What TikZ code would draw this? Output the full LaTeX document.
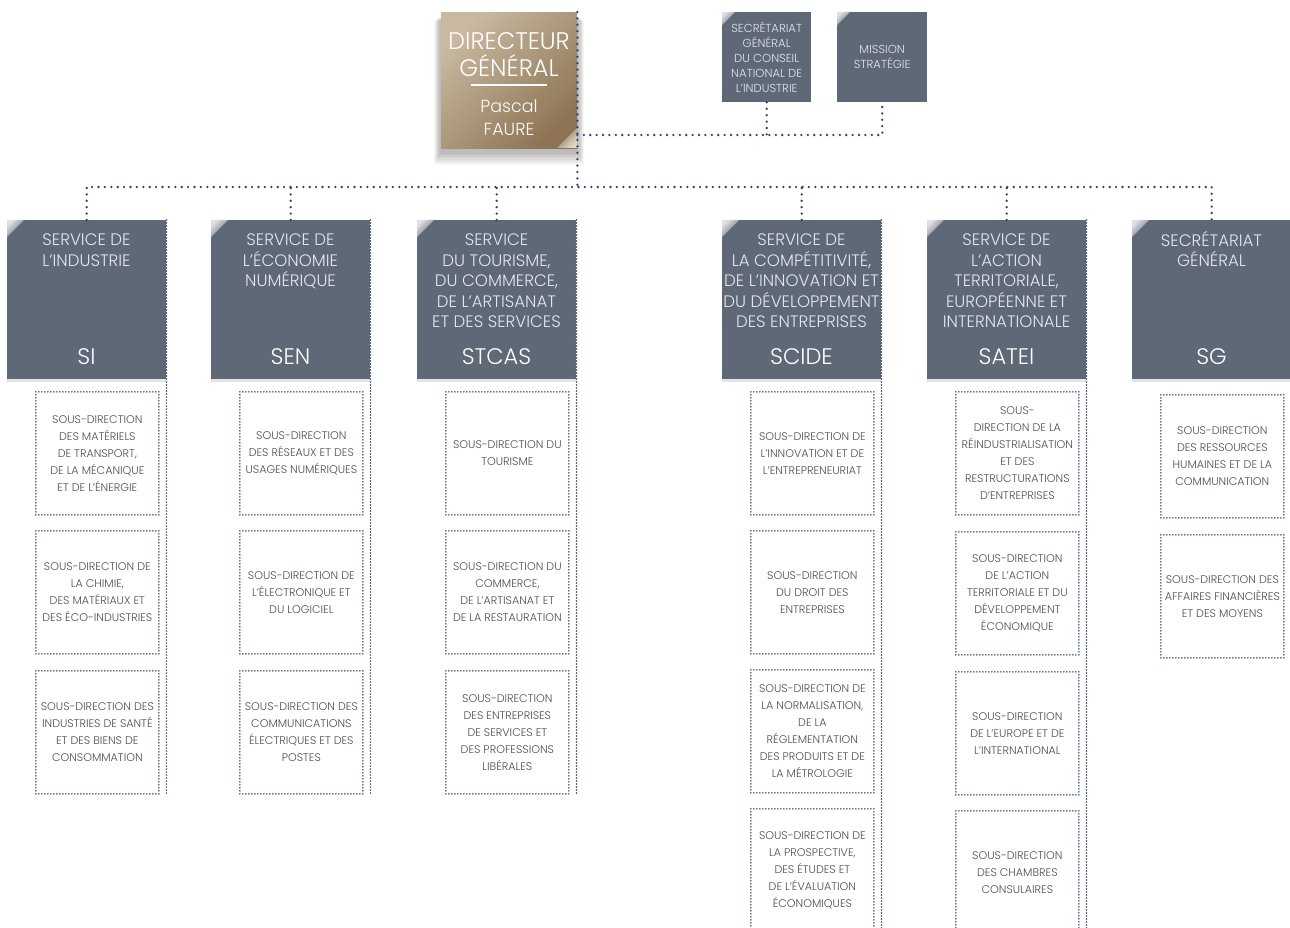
\documentclass[tikz,border=0pt]{standalone}
\usepackage{fontspec}
\IfFontExistsTF{Poppins Light}{\setmainfont{Poppins Light}}{\setmainfont{Poppins}}
\usetikzlibrary{fadings}
\definecolor{hdr}{HTML}{5F6877}
\definecolor{dotc}{HTML}{34466A}
\definecolor{subtxt}{HTML}{4A4F56}
\definecolor{hdrtxt}{HTML}{E4E7EC}
\definecolor{goldA}{HTML}{C8B9A0}
\definecolor{goldB}{HTML}{8E7454}
\tikzset{
  bus/.style={draw=dotc, line width=2.6pt, line cap=round, dash pattern=on 0pt off 6.4pt},
  fine/.style={draw=dotc, line width=1.7pt, line cap=round, dash pattern=on 0pt off 3pt},
  hdrbox/.style={fill=hdr, minimum width=159pt, minimum height=159pt, inner sep=0pt, anchor=north west},
  topbox/.style={fill=hdr, minimum height=90pt, inner sep=0pt, anchor=north west, text=hdrtxt, align=center, font=\fontsize{11.6}{15}\selectfont},
  hdrtitle/.style={anchor=north, inner sep=0pt, text=hdrtxt, align=center, font=\fontsize{16.6}{20.5}\selectfont},
  hdrabbr/.style={anchor=center, inner sep=0pt, text=white, font=\fontsize{22.5}{26}\selectfont},
  subbox/.style={fine, minimum width=123pt, minimum height=123pt, anchor=north west, inner sep=0pt, text=subtxt, align=center, font=\fontsize{11.1}{17}\selectfont},
  dgtxt/.style={anchor=base, inner sep=0pt, text=white},
}
\newcommand{\svc}[5]{%
  \fill[black!10] (#2,379) rectangle (#2+159,382);
  \node[hdrbox] (#1) at (#2,220) {};
  \shade[top color=white!80!hdr, bottom color=hdr, shading angle=45] (#2,220) -- (#2+17,220) -- (#2,237) -- cycle;
  \node[hdrtitle] (#1-t) at (#2+79.5,#5) {#3};
  \node[hdrabbr] (#1-a) at (#2+79.5,357) {#4};
}
\newcommand{\subd}[4]{\node[subbox] (#1) at (#2+28,#3) {#4};}
\begin{document}
\begin{tikzpicture}[x=1pt,y=-1pt]
\useasboundingbox[fill=white] (0,0) rectangle (1290,928);
% director shadow
\foreach \i in {1,...,8}{
  \fill[black, opacity=0.035] (441-\i*0.9,16+\i*0.6) rectangle (577+\i*0.9,152+\i*1.6);
}
\node[minimum width=136pt, minimum height=136pt, inner sep=0pt, anchor=north west,
      top color=goldA, bottom color=goldB, shading angle=45] (dg) at (441,12) {};
\shade[top color=goldB, bottom color=white!45!goldA, shading angle=45] (577,148) -- (577,128) -- (557,148) -- cycle;
\node[dgtxt, font=\fontsize{24}{28}\selectfont] (dg-l1) at (509,50) {DIRECTEUR};
\node[dgtxt, font=\fontsize{24}{28}\selectfont] (dg-l2) at (509,76.5) {GÉNÉRAL};
\draw[white, line width=1.3pt] (471,85) -- (547,85);
\node[dgtxt, text=white!92!goldA, font=\fontsize{17.5}{20}\selectfont] (dg-l3) at (509,112.5) {Pascal};
\node[dgtxt, text=white!92!goldA, font=\fontsize{17.5}{20}\selectfont] (dg-l4) at (509,135.5) {FAURE};

% top right boxes
\node[topbox, minimum width=89pt] (sgcni) at (722,12) {SECRÉTARIAT\\GÉNÉRAL\\DU CONSEIL\\NATIONAL DE\\L'INDUSTRIE};
\shade[top color=white!80!hdr, bottom color=hdr, shading angle=45] (722,12) -- (735,12) -- (722,25) -- cycle;
\node[topbox, minimum width=90pt] (mis) at (837,12) {MISSION\\STRATÉGIE};
\shade[top color=white!80!hdr, bottom color=hdr, shading angle=45] (837,12) -- (850,12) -- (837,25) -- cycle;

% services
\svc{si}{7}{SERVICE DE\\L'INDUSTRIE}{SI}{234}
\svc{sen}{211}{SERVICE DE\\L'ÉCONOMIE\\NUMÉRIQUE}{SEN}{234}
\svc{stcas}{417}{SERVICE\\DU TOURISME,\\DU COMMERCE,\\DE L'ARTISANAT\\ET DES SERVICES}{STCAS}{234}
\svc{scide}{722}{SERVICE DE\\LA COMPÉTITIVITÉ,\\DE L'INNOVATION ET\\DU DÉVELOPPEMENT\\DES ENTREPRISES}{SCIDE}{234}
\svc{satei}{927}{SERVICE DE\\L'ACTION\\TERRITORIALE,\\EUROPÉENNE ET\\INTERNATIONALE}{SATEI}{234}
\svc{sg}{1132}{SECRÉTARIAT\\GÉNÉRAL}{SG}{231}

% sub-directions
\subd{si1}{7}{391}{SOUS-DIRECTION\\DES MATÉRIELS\\DE TRANSPORT,\\DE LA MÉCANIQUE\\ET DE L'ÉNERGIE}
\subd{si2}{7}{530}{SOUS-DIRECTION DE\\LA CHIMIE,\\DES MATÉRIAUX ET\\DES ÉCO-INDUSTRIES}
\subd{si3}{7}{670}{SOUS-DIRECTION DES\\INDUSTRIES DE SANTÉ\\ET DES BIENS DE\\CONSOMMATION}

\subd{sen1}{211}{391}{SOUS-DIRECTION\\DES RÉSEAUX ET DES\\USAGES NUMÉRIQUES}
\subd{sen2}{211}{530}{SOUS-DIRECTION DE\\L'ÉLECTRONIQUE ET\\DU LOGICIEL}
\subd{sen3}{211}{670}{SOUS-DIRECTION DES\\COMMUNICATIONS\\ÉLECTRIQUES ET DES\\POSTES}

\subd{stcas1}{417}{391}{SOUS-DIRECTION DU\\TOURISME}
\subd{stcas2}{417}{530}{SOUS-DIRECTION DU\\COMMERCE,\\DE L'ARTISANAT ET\\DE LA RESTAURATION}
\subd{stcas3}{417}{670}{SOUS-DIRECTION\\DES ENTREPRISES\\DE SERVICES ET\\DES PROFESSIONS\\LIBÉRALES}

\subd{scide1}{722}{391}{SOUS-DIRECTION DE\\L'INNOVATION ET DE\\L'ENTREPRENEURIAT}
\subd{scide2}{722}{530}{SOUS-DIRECTION\\DU DROIT DES\\ENTREPRISES}
\subd{scide3}{722}{669}{SOUS-DIRECTION DE\\LA NORMALISATION,\\DE LA\\RÉGLEMENTATION\\DES PRODUITS ET DE\\LA MÉTROLOGIE}
\subd{scide4}{722}{808}{SOUS-DIRECTION DE\\LA PROSPECTIVE,\\DES ÉTUDES ET\\DE L'ÉVALUATION\\ÉCONOMIQUES}

\subd{satei1}{927}{391}{SOUS-\\DIRECTION DE LA\\RÉINDUSTRIALISATION\\ET DES\\RESTRUCTURATIONS\\D'ENTREPRISES}
\subd{satei2}{927}{531}{SOUS-DIRECTION\\DE L'ACTION\\TERRITORIALE ET DU\\DÉVELOPPEMENT\\ÉCONOMIQUE}
\subd{satei3}{927}{671}{SOUS-DIRECTION\\DE L'EUROPE ET DE\\L'INTERNATIONAL}
\subd{satei4}{927}{810}{SOUS-DIRECTION\\DES CHAMBRES\\CONSULAIRES}

\subd{sg1}{1132}{394}{SOUS-DIRECTION\\DES RESSOURCES\\HUMAINES ET DE LA\\COMMUNICATION}
\subd{sg2}{1132}{534}{SOUS-DIRECTION DES\\AFFAIRES FINANCIÈRES\\ET DES MOYENS}

% column lines
\draw[fine] (si.north east) -- (si.north east |- si3.south);
\draw[fine] (sen.north east) -- (sen.north east |- sen3.south);
\draw[fine] (stcas.north east) -- (stcas.north east |- stcas3.south);
\draw[fine] (scide.north east) -- (scide.north east |- scide4.south);
\draw[fine] (satei.north east) -- (satei.north east |- satei4.south);

% connectors
\coordinate (busy) at (0,187);
\coordinate (topy) at (0,135);
\draw[bus] (si.north) -- (si.north |- busy) -| (sg.north);
\draw[bus] (sen.north) -- (sen.north |- busy);
\draw[bus] (stcas.north) -- (stcas.north |- busy);
\draw[bus] (scide.north) -- (scide.north |- busy);
\draw[bus] (satei.north) -- (satei.north |- busy);
\draw[bus] (dg.north east) -- (dg.north east |- busy);
\draw[bus] (dg.north east |- topy) -| (mis.south);
\draw[bus] (sgcni.south) -- (sgcni.south |- topy);
\end{tikzpicture}
\end{document}
